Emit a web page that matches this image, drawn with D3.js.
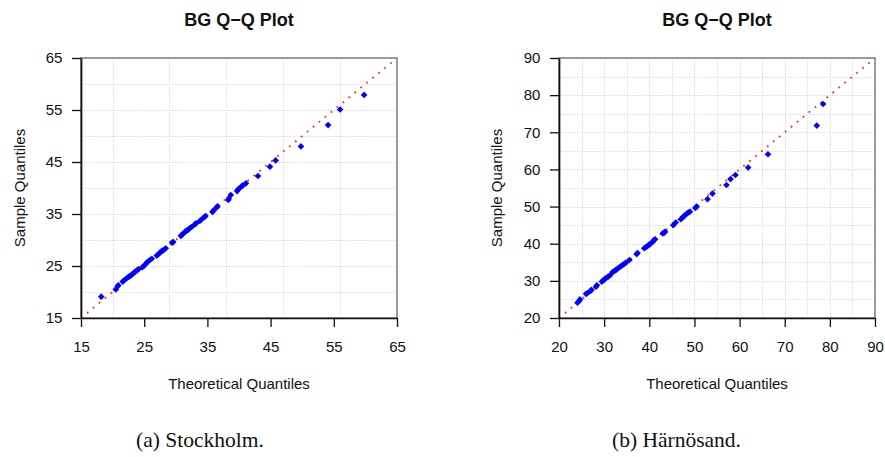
<!DOCTYPE html>
<html><head><meta charset="utf-8">
<script src="https://cdn.jsdelivr.net/npm/d3@7"></script>
<style>
html,body{margin:0;padding:0;background:#fff;}
svg{display:block;}
</style></head>
<body>
<svg id="chart" width="885" height="457"></svg>
<script>
// ---------- DATA ----------
const titleText = "BG Q\u2212Q Plot";
const xLabel = "Theoretical Quantiles";
const yLabel = "Sample Quantiles";
const captions = ["(a) Stockholm.", "(b) Härnösand."];

// Stockholm: [theoretical, sample]
const stockholm = [
 [18.2,19.1],
 [20.5,20.5],[20.8,21.1],[20.9,21.3],
 [21.6,22.0],[21.9,22.3],[22.2,22.6],[22.5,22.9],[22.8,23.1],[23.0,23.3],[23.3,23.6],[23.5,23.85],[23.8,24.1],[24.1,24.4],
 [24.7,24.75],[25.0,25.1],[25.3,25.5],[25.55,25.8],[25.9,26.15],[26.2,26.4],
 [27.0,27.0],[27.3,27.3],[27.5,27.6],[27.8,27.9],[28.0,28.0],[28.4,28.4],
 [29.4,29.5],[29.6,29.6],
 [30.8,30.8],[31.0,31.0],[31.2,31.3],[31.5,31.6],[31.7,31.8],[32.0,32.0],[32.2,32.25],[32.5,32.5],[33.0,33.0],[33.2,33.2],
 [33.8,33.65],[34.0,33.9],[34.5,34.4],[34.7,34.6],
 [35.8,35.4],[36.0,35.7],[36.5,36.3],[36.6,36.5],
 [38.3,37.7],[38.4,38.0],[38.7,38.65],
 [39.7,39.4],[39.8,39.6],[40.0,39.9],[40.4,40.3],[40.6,40.5],[41.1,40.9],
 [43.0,42.3],[44.9,44.1],[45.8,45.3],[49.8,48.0],[54.1,52.1],[56.0,55.1],[59.8,57.9]
];
// Härnösand: [theoretical, sample]
const harnosand = [
 [24.1,24.1],[24.4,24.5],[24.65,25.0],[26.0,26.5],[26.3,26.7],[27.0,27.3],[27.2,27.6],[28.2,28.4],[28.4,28.8],
 [29.5,29.8],[29.9,30.2],[30.2,30.6],[30.6,30.9],[30.9,31.1],[31.3,31.5],[31.9,32.4],[32.3,32.7],[32.6,32.9],
 [33.0,33.3],[33.4,33.65],[33.8,34.0],[34.1,34.3],[34.5,34.6],[34.8,34.9],[35.6,35.6],[37.2,37.2],[37.4,37.5],
 [38.9,38.8],[39.3,39.1],[39.6,39.4],[39.9,39.7],[40.2,39.9],[40.75,40.5],[41.0,40.9],[41.3,41.2],
 [43.0,42.8],[43.3,43.0],[43.5,43.2],[45.3,45.0],[45.85,45.7],
 [47.0,46.6],[47.4,47.1],[47.7,47.4],[47.9,47.65],[48.4,48.2],[48.7,48.4],[49.0,48.6],[50.2,49.6],[50.5,50.0],
 [52.9,52.0],[54.0,53.5],[57.1,55.8],[58.0,57.4],[59.1,58.5],[61.9,60.5],[66.3,64.1],[77.1,71.8],[78.5,77.6]
];

const leftDomain = [15, 65];
const leftTicks = [15, 25, 35, 45, 55, 65];
const leftGridX = [20, 29, 38, 47, 56];
const leftGridY = [20, 25, 30, 35, 40, 45, 50, 55, 60];

const rightDomain = [20, 90];
const rightTicks = [20, 30, 40, 50, 60, 70, 80, 90];
const rightGridX = [25, 30, 35, 40, 45, 50, 55, 60, 65, 70, 75, 80, 85];
const rightGridY = [25, 30, 35, 40, 45, 50, 55, 60, 65, 70, 75, 80, 85];

// ---------- DRAW ----------
const svg = d3.select("#chart");
const FONT = "'Liberation Sans', Arial, Helvetica, sans-serif";

function panel(cfg) {
  const {x0, x1, y0, y1, domain, ticks, gridX, gridY, data, id, ylabX} = cfg;
  const x = d3.scaleLinear().domain(domain).range([x0, x1]);
  const y = d3.scaleLinear().domain(domain).range([y1, y0]);
  const g = svg.append("g");

  g.append("defs").append("clipPath").attr("id", id)
    .append("rect").attr("x", x0).attr("y", y0).attr("width", x1 - x0).attr("height", y1 - y0);

  // grid
  const grid = g.append("g").attr("stroke", "#cfcfcf").attr("stroke-width", 1)
    .attr("stroke-dasharray", "1,1.6");
  grid.selectAll("line.gx").data(gridX).join("line").attr("class", "gx")
    .attr("x1", d => Math.round(x(d)) + 0.5).attr("x2", d => Math.round(x(d)) + 0.5)
    .attr("y1", y0).attr("y2", y1);
  grid.selectAll("line.gy").data(gridY).join("line").attr("class", "gy")
    .attr("y1", d => Math.round(y(d)) + 0.5).attr("y2", d => Math.round(y(d)) + 0.5)
    .attr("x1", x0).attr("x2", x1);

  // reference line y = x
  g.append("line")
    .attr("clip-path", `url(#${id})`)
    .attr("x1", x(domain[0])).attr("y1", y(domain[0]))
    .attr("x2", x(domain[1])).attr("y2", y(domain[1]))
    .attr("stroke", "#ff2a2a").attr("stroke-width", 1.8)
    .attr("stroke-dasharray", "1.8,5.9");

  // points (filled diamonds)
  const sym = d3.symbol().type(d3.symbolSquare).size(22);
  g.append("g").selectAll("path").data(data).join("path")
    .attr("d", sym)
    .attr("transform", d => `translate(${x(d[0])},${y(d[1])}) rotate(45)`)
    .attr("fill", "#0000ff");

  // box
  g.append("rect").attr("x", x0).attr("y", y0).attr("width", x1 - x0).attr("height", y1 - y0)
    .attr("fill", "none").attr("stroke", "#7a7a7a").attr("stroke-width", 1.5);

  // axes
  const ax = g.append("g").attr("transform", `translate(0,${y1})`)
    .call(d3.axisBottom(x).tickValues(ticks).tickSize(9).tickPadding(14.3).tickSizeOuter(0));
  const ay = g.append("g").attr("transform", `translate(${x0},0)`)
    .call(d3.axisLeft(y).tickValues(ticks).tickSize(9).tickPadding(9.7).tickSizeOuter(0));
  [ax, ay].forEach(a => {
    a.select(".domain").attr("stroke", "#111").attr("stroke-width", 1.7);
    a.selectAll(".tick line").attr("stroke", "#111").attr("stroke-width", 1.3);
    a.selectAll(".tick text").attr("fill", "#111").style("font-family", FONT).style("font-size", "15px");
  });

  // title
  g.append("text").attr("x", (x0 + x1) / 2).attr("y", 26).attr("text-anchor", "middle")
    .style("font-family", FONT).style("font-size", "18px").style("font-weight", "bold")
    .attr("fill", "#111").text(titleText);
  // x label
  g.append("text").attr("x", (x0 + x1) / 2).attr("y", 389).attr("text-anchor", "middle")
    .style("font-family", FONT).style("font-size", "15px").attr("fill", "#111").text(xLabel);
  // y label
  g.append("text").attr("transform", `translate(${ylabX},${(y0 + y1) / 2}) rotate(-90)`)
    .attr("text-anchor", "middle")
    .style("font-family", FONT).style("font-size", "15px").attr("fill", "#111").text(yLabel);
}

panel({x0: 81, x1: 397, y0: 58, y1: 318, domain: leftDomain, ticks: leftTicks,
       gridX: leftGridX, gridY: leftGridY, data: stockholm, id: "clipL", ylabX: 25});
panel({x0: 559, x1: 875, y0: 58, y1: 318, domain: rightDomain, ticks: rightTicks,
       gridX: rightGridX, gridY: rightGridY, data: harnosand, id: "clipR", ylabX: 502});

// captions
svg.selectAll("text.cap").data(captions).join("text").attr("class", "cap")
  .attr("x", (d, i) => i === 0 ? 136 : 612).attr("y", 447)
  .style("font-family", "'Liberation Serif', 'DejaVu Serif', serif").style("font-size", "21.5px")
  .attr("fill", "#111").text(d => d);
</script>
</body></html>
